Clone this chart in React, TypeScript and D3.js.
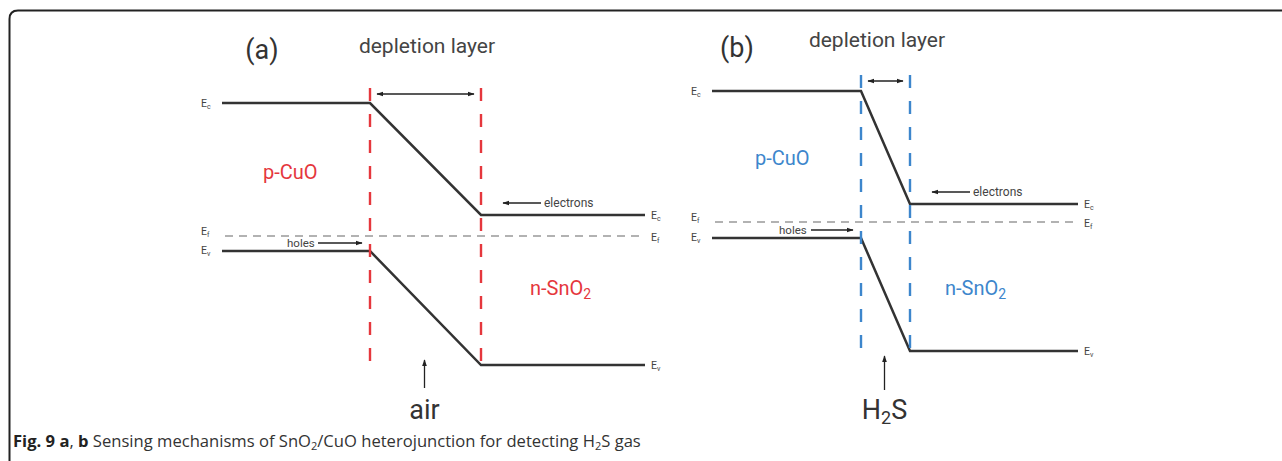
import React from "react";
import * as d3 from "d3";

// ---- Data (diagram units: x = position along junction, E = energy relative to Fermi level) ----
const panelIds = ["a", "b"];
const panelLabels = ["(a)", "(b)"];
const gasLabels = ["air", "H2S"];
const panelColors = ["#e5373d", "#3d86cc"];
// junction knots: start, depletion start, depletion end, end
const knotsA = [0, 14.8, 25.9, 42.3];
const knotsB = [0, 14.9, 19.8, 36.6];
// conduction band (Ec) left / right levels
const ecA = [13.3, 2.1];
const ecB = [13.1, 1.8];
// valence band (Ev) left / right levels
const evA = [-1.5, -12.9];
const evB = [-1.6, -12.9];
// depletion boundaries vertical extent (energy)
const depTopA = 14.8, depBotA = -13.4;
const depTopB = 14.7, depBotB = -13.8;

const W = 1282, H = 461;

function Arrow({ x1, y1, x2, y2, id, double = false }: any) {
  return (
    <line x1={x1} y1={y1} x2={x2} y2={y2} stroke="#222" strokeWidth={1.3}
      markerEnd={`url(#${id})`} markerStart={double ? `url(#${id}s)` : undefined} />
  );
}

function ELabel({ x, y, sub }: any) {
  return (
    <text x={x} y={y} fontSize={10.5} fill="#444" fontFamily="Roboto">
      E<tspan fontSize={7} dy={2}>{sub}</tspan>
    </text>
  );
}

function Panel({ idx }: { idx: number }) {
  const knots = idx === 0 ? knotsA : knotsB;
  const ec = idx === 0 ? ecA : ecB;
  const ev = idx === 0 ? evA : evB;
  const depTop = idx === 0 ? depTopA : depTopB;
  const depBot = idx === 0 ? depBotA : depBotB;
  const x0 = idx === 0 ? 222 : 712;
  const yEf = idx === 0 ? 236 : 222;
  const color = panelColors[idx];
  const x = d3.scaleLinear().domain([0, 1]).range([x0, x0 + 10]);
  const y = d3.scaleLinear().domain([0, 1]).range([yEf, yEf - 10]);
  const line = d3.line<[number, number]>().x(d => x(d[0])).y(d => y(d[1]));
  const band = (lv: number[]) =>
    line([[knots[0], lv[0]], [knots[1], lv[0]], [knots[2], lv[1]], [knots[3], lv[1]]]);
  const xs = x(knots[0]), xj1 = x(knots[1]), xj2 = x(knots[2]), xe = x(knots[3]);
  const mid = (xj1 + xj2) / 2;
  const aid = `arr${panelIds[idx]}`;
  const isA = idx === 0;
  return (
    <g>
      <defs>
        <marker id={aid} viewBox="0 0 10 10" refX={9} refY={5} markerWidth={7} markerHeight={7} orient="auto" markerUnits="userSpaceOnUse">
          <path d="M0,1.5 L10,5 L0,8.5 Z" fill="#222" />
        </marker>
        <marker id={aid + "s"} viewBox="0 0 10 10" refX={1} refY={5} markerWidth={7} markerHeight={7} orient="auto" markerUnits="userSpaceOnUse">
          <path d="M10,1.5 L0,5 L10,8.5 Z" fill="#222" />
        </marker>
      </defs>
      {/* Fermi level */}
      <line x1={xs + 3} x2={xe} y1={y(0)} y2={y(0)} stroke="#999" strokeWidth={1.3} strokeDasharray="8,6" />
      {/* bands */}
      <path d={band(ec) || ""} fill="none" stroke="#333" strokeWidth={2.5} />
      <path d={band(ev) || ""} fill="none" stroke="#333" strokeWidth={2.5} />
      {/* depletion boundaries */}
      {[xj1, xj2].map((xx, i) => (
        <line key={i} x1={xx} x2={xx} y1={y(depTop)} y2={y(depBot)} stroke={color} strokeWidth={2.4} strokeDasharray="13,13" />
      ))}
      {/* depletion width arrow */}
      <Arrow id={aid} double x1={xj1 + 7} x2={xj2 - 7} y1={y(depTop) + 6} y2={y(depTop) + 6} />
      {/* titles */}
      <text x={isA ? 262 : 737} y={isA ? 59 : 57} fontSize={27} textAnchor="middle" fill="#333" fontFamily="Roboto">{panelLabels[idx]}</text>
      <text x={isA ? 427 : 877} y={isA ? 53 : 47} fontSize={21} textAnchor="middle" fill="#444" fontFamily="Roboto">depletion layer</text>
      {/* regions */}
      <text x={isA ? 263 : 755} y={isA ? 179 : 165} fontSize={20} fill={color} fontFamily="Roboto">p-CuO</text>
      <text x={isA ? 530 : 945} y={isA ? 295 : 295} fontSize={20} fill={color} fontFamily="Roboto">
        n-SnO<tspan fontSize={14} dy={4}>2</tspan>
      </text>
      {/* band labels */}
      <ELabel x={xs - 21} y={y(ec[0]) + 4} sub="c" />
      <ELabel x={xs - 21} y={y(0) - 1} sub="f" />
      <ELabel x={xs - 21} y={y(ev[0]) + 3} sub="v" />
      <ELabel x={xe + 6} y={y(ec[1]) + 4} sub="c" />
      <ELabel x={xe + 6} y={y(0) + 5} sub="f" />
      <ELabel x={xe + 6} y={y(ev[1]) + 4} sub="v" />
      {/* carriers */}
      <text x={isA ? 287 : 779} y={y(ev[0]) - 4} fontSize={11.5} fill="#444" fontFamily="Roboto">holes</text>
      <Arrow id={aid} x1={isA ? 318 : 811} x2={xj1 - 8} y1={y(ev[0]) - 8} y2={y(ev[0]) - 8} />
      <Arrow id={aid} x1={xj2 + 60} x2={xj2 + 22} y1={y(ec[1]) - 12} y2={y(ec[1]) - 12} />
      <text x={xj2 + 63} y={y(ec[1]) - 8} fontSize={12} fill="#444" fontFamily="Roboto">electrons</text>
      {/* gas */}
      <Arrow id={aid} x1={mid - 1} x2={mid - 1} y1={isA ? 388 : 390} y2={isA ? 360 : 356} />
      <text x={mid - 1} y={419} fontSize={27} textAnchor="middle" fill="#333" fontFamily="Roboto">
        {idx === 0 ? gasLabels[0] : <>H<tspan fontSize={18} dy={5}>2</tspan><tspan dy={-5}>S</tspan></>}
      </text>
    </g>
  );
}

export default function App() {
  return (
    <svg width={W} height={H} style={{ position: "absolute", left: 0, top: 0, background: "#fff" }}>
      <rect width={W} height={H} fill="#fff" />
      <path d="M9.5,461 V19 Q9.5,10.5 18,10.5 H1282" fill="none" stroke="#222" strokeWidth={2} />
      {panelIds.map((p, i) => <Panel key={p} idx={i} />)}
      <text x={13} y={447} fontSize={16.6} fill="#333" fontFamily="Open Sans">
        <tspan fontWeight="bold" fill="#222">Fig. 9 a</tspan>, <tspan fontWeight="bold" fill="#222">b</tspan> Sensing mechanisms of SnO<tspan fontSize={11} dy={3}>2</tspan><tspan dy={-3}>/CuO heterojunction for detecting H</tspan><tspan fontSize={11} dy={3}>2</tspan><tspan dy={-3}>S gas</tspan>
      </text>
    </svg>
  );
}
